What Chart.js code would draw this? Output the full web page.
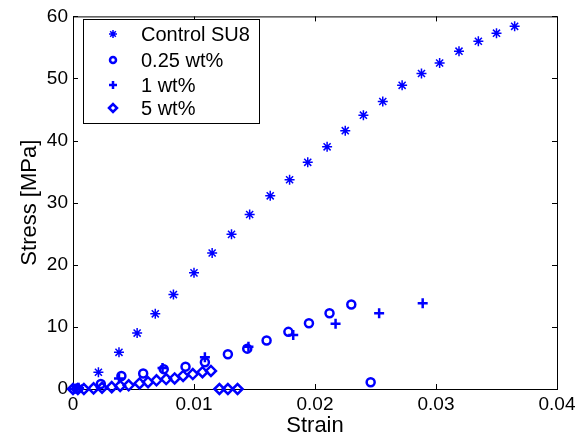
<!DOCTYPE html>
<html>
<head>
<meta charset="utf-8">
<script src="https://cdn.jsdelivr.net/npm/chart.js@4"></script>
<style>
  html, body { margin: 0; padding: 0; background: #fff; }
  #wrap { width: 585px; height: 441px; }
</style>
</head>
<body>
<div id="wrap"><canvas id="myChart" width="585" height="441"></canvas></div>
<script>
// data block
const seriesLabels = ['Control SU8', '0.25 wt%', '1 wt%', '5 wt%'];

const controlStrain = [0.0005, 0.0021, 0.0038, 0.0053, 0.0068, 0.0083, 0.0100, 0.0115, 0.0131, 0.0146, 0.0163, 0.0179,
    0.0194, 0.0210, 0.0225, 0.0240, 0.0256, 0.0272, 0.0288, 0.0303, 0.0319, 0.0335, 0.0350, 0.0365];
const controlStress = [0.2, 2.7, 5.9, 9.0, 12.1, 15.2, 18.7, 21.9, 24.9, 28.1, 31.1, 33.7,
    36.5, 39.0, 41.6, 44.1, 46.3, 48.9, 50.8, 52.5, 54.4, 56.0, 57.3, 58.4];

const wt025Strain = [0.0003, 0.0023, 0.0040, 0.0058, 0.0075, 0.0093, 0.0109, 0.0128, 0.0144, 0.0160, 0.0178, 0.0195, 0.0212, 0.0230, 0.0246];
const wt025Stress = [0.1, 0.8, 2.1, 2.5, 3.2, 3.6, 4.3, 5.6, 6.5, 7.8, 9.2, 10.6, 12.2, 13.6, 1.1];

const wt1Strain = [0.0001, 0.0038, 0.0074, 0.0109, 0.0145, 0.0182, 0.0217, 0.0253, 0.0289];
const wt1Stress = [0.0, 1.7, 3.4, 5.1, 6.8, 8.7, 10.5, 12.2, 13.8];

const wt5Strain = [0.0000, 0.0004, 0.0009, 0.0017, 0.0024, 0.0032, 0.0039, 0.0046, 0.0055, 0.0062,
    0.0069, 0.0077, 0.0084, 0.0091, 0.0099, 0.0107, 0.0114, 0.0121, 0.0128, 0.0136];
const wt5Stress = [0, 0, 0, 0.1, 0.2, 0.3, 0.5, 0.6, 0.9, 1.1,
    1.4, 1.6, 1.7, 2.1, 2.4, 2.7, 2.9, 0, 0, 0];

const xTicks = [0, 0.01, 0.02, 0.03, 0.04];
const yTicks = [0, 10, 20, 30, 40, 50, 60];

const BLUE = 'rgb(0, 0, 255)';
const FONT = "'Liberation Sans', Arial, Helvetica, sans-serif";

function pts(xs, ys) {
    return xs.map((x, i) => ({ x: x, y: ys[i] }));
}

const data = {
    datasets: [{
        label: seriesLabels[0],
        data: pts(controlStrain, controlStress),
        pointStyle: 'star',
        pointRadius: 5,
        borderWidth: 1.5,
        borderColor: BLUE,
        backgroundColor: BLUE
    }, {
        label: seriesLabels[1],
        data: pts(wt025Strain, wt025Stress),
        pointStyle: 'circle',
        pointRadius: 4,
        borderWidth: 2.5,
        borderColor: BLUE,
        backgroundColor: 'rgba(0,0,0,0)'
    }, {
        label: seriesLabels[2],
        data: pts(wt1Strain, wt1Stress),
        pointStyle: 'cross',
        pointRadius: 5,
        borderWidth: 2.5,
        borderColor: BLUE,
        backgroundColor: BLUE
    }, {
        label: seriesLabels[3],
        data: pts(wt5Strain, wt5Stress),
        pointStyle: 'rectRot',
        pointRadius: 5,
        borderWidth: 2.5,
        borderColor: BLUE,
        backgroundColor: 'rgba(0,0,0,0)'
    }]
};

// box + inward ticks, matlab style
const boxPlugin = {
    id: 'box',
    beforeDatasetsDraw(chart) {
        const { ctx, chartArea: a, scales } = chart;
        ctx.save();
        ctx.strokeStyle = '#000';
        ctx.lineWidth = 1;
        ctx.strokeRect(a.left + 0.5, a.top + 0.5, a.right - a.left, a.bottom - a.top);
        const len = 5;
        ctx.beginPath();
        xTicks.forEach(v => {
            const x = Math.round(scales.x.getPixelForValue(v)) + 0.5;
            ctx.moveTo(x, a.bottom); ctx.lineTo(x, a.bottom - len);
            ctx.moveTo(x, a.top); ctx.lineTo(x, a.top + len);
        });
        yTicks.forEach(v => {
            const y = Math.round(scales.y.getPixelForValue(v)) + 0.5;
            ctx.moveTo(a.left, y); ctx.lineTo(a.left + len, y);
            ctx.moveTo(a.right, y); ctx.lineTo(a.right - len, y);
        });
        ctx.stroke();
        ctx.restore();
    }
};

// legend drawn inside the axes
const legendPlugin = {
    id: 'innerLegend',
    afterDraw(chart) {
        const ctx = chart.ctx;
        const bx = 83, by = 19, bw = 176, bh = 104;
        ctx.save();
        ctx.fillStyle = '#fff';
        ctx.fillRect(bx, by, bw, bh);
        ctx.strokeStyle = '#000';
        ctx.lineWidth = 1;
        ctx.strokeRect(bx + 0.5, by + 0.5, bw, bh);
        const rows = [34, 60, 85, 108];
        chart.data.datasets.forEach((ds, i) => {
            ctx.strokeStyle = ds.borderColor;
            ctx.fillStyle = ds.backgroundColor;
            ctx.lineWidth = ds.borderWidth;
            Chart.helpers.drawPoint(ctx, {
                pointStyle: ds.pointStyle,
                radius: ds.pointStyle === 'circle' ? 3 : 4,
                rotation: 0,
                borderWidth: ds.borderWidth
            }, 113, rows[i]);
            ctx.fillStyle = '#000';
            ctx.font = '20px ' + FONT;
            ctx.textBaseline = 'middle';
            ctx.textAlign = 'left';
            ctx.fillText(ds.label, 141, rows[i] + 1);
        });
        ctx.restore();
    }
};

// config block
const config = {
    type: 'scatter',
    data: data,
    options: {
        responsive: false,
        animation: false,
        layout: { padding: { top: 11, right: 28, left: 0, bottom: 0 } },
        scales: {
            x: {
                type: 'linear',
                min: 0,
                max: 0.04,
                afterBuildTicks: (scale) => { scale.ticks = xTicks.map(v => ({ value: v })); },
                afterFit: (scale) => { scale.height = 52; },
                grid: { display: false, drawTicks: false },
                border: { display: false },
                ticks: {
                    color: '#000',
                    padding: 4,
                    maxRotation: 0,
                    font: { family: FONT, size: 19 },
                    callback: (v) => String(Number(v.toFixed(2)))
                },
                title: {
                    display: true,
                    text: 'Strain',
                    color: '#000',
                    font: { family: FONT, size: 22 },
                    padding: { top: 0, bottom: 2 }
                }
            },
            y: {
                type: 'linear',
                min: 0,
                max: 60,
                afterBuildTicks: (scale) => { scale.ticks = yTicks.map(v => ({ value: v })); },
                afterFit: (scale) => { scale.width = 73; },
                grid: { display: false, drawTicks: false },
                border: { display: false },
                ticks: {
                    color: '#000',
                    padding: 5,
                    font: { family: FONT, size: 19 }
                },
                title: {
                    display: true,
                    text: 'Stress [MPa]',
                    color: '#000',
                    font: { family: FONT, size: 22 },
                    padding: { top: 17, bottom: 0 }
                }
            }
        },
        elements: { point: { hoverRadius: 5 } },
        clip: false,
        plugins: {
            legend: { display: false },
            tooltip: { enabled: false }
        }
    },
    plugins: [boxPlugin, legendPlugin]
};

// init render block
const myChart = new Chart(
    document.getElementById('myChart'),
    config
);
</script>
</body>
</html>
